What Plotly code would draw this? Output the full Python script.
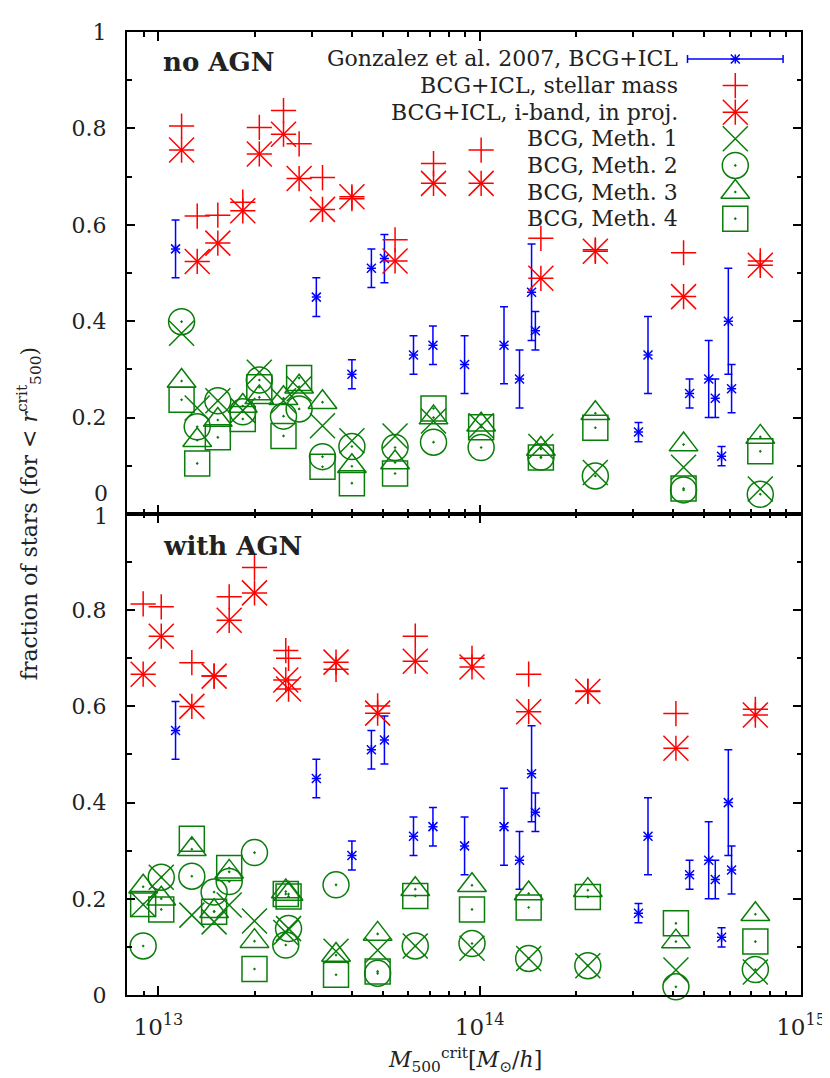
import plotly.graph_objects as go

# ---------------- data ----------------
# Gonzalez et al. 2007 observations (same in both panels)
gonz_mass = [1.13e13, 3.10e13, 4.0e13, 4.6e13, 5.05e13, 6.22e13, 7.15e13, 8.97e13,
             1.19e14, 1.33e14, 1.45e14, 1.49e14, 3.12e14, 3.34e14, 4.50e14, 5.16e14,
             5.41e14, 5.66e14, 5.94e14, 6.08e14]
gonz_frac = [0.55, 0.45, 0.29, 0.51, 0.53, 0.33, 0.35, 0.31,
             0.35, 0.28, 0.46, 0.38, 0.17, 0.33, 0.25, 0.28,
             0.24, 0.12, 0.40, 0.26]
gonz_err = [0.06, 0.04, 0.03, 0.04, 0.05, 0.04, 0.04, 0.06,
            0.08, 0.06, 0.10, 0.04, 0.02, 0.08, 0.03, 0.08,
            0.04, 0.02, 0.11, 0.05]

# simulations without AGN (top panel)
noagn_mass = [1.18e13, 1.32e13, 1.53e13, 1.83e13, 2.06e13, 2.45e13, 2.74e13, 3.24e13,
              4.0e13, 5.45e13, 7.18e13, 1.01e14, 1.55e14, 2.29e14, 4.31e14, 7.47e14]
noagn_stellar = [0.805, 0.618, 0.620, 0.647, 0.802, 0.837, 0.768, 0.698,
                 0.654, 0.569, 0.727, 0.755, 0.572, 0.548, 0.542, 0.525]
noagn_iband = [0.755, 0.524, 0.562, 0.629, 0.747, 0.788, 0.696, 0.632,
               0.658, 0.525, 0.686, 0.686, 0.489, 0.545, 0.451, 0.516]
noagn_meth1 = [0.375, 0.220, 0.235, 0.215, 0.294, 0.235, 0.260, 0.183,
               0.152, 0.162, 0.193, 0.183, 0.140, 0.086, 0.097, 0.052]
noagn_meth2 = [0.399, 0.181, 0.235, 0.212, 0.278, 0.203, 0.218, 0.119,
               0.140, 0.138, 0.149, 0.138, 0.118, 0.079, 0.050, 0.041]
noagn_meth3 = [0.276, 0.153, 0.195, 0.224, 0.242, 0.240, 0.264, 0.232,
               0.099, 0.107, 0.200, 0.185, 0.135, 0.209, 0.144, 0.160]
noagn_meth4 = [0.237, 0.105, 0.159, 0.197, 0.263, 0.162, 0.282, 0.098,
               0.064, 0.084, 0.219, 0.180, 0.117, 0.179, 0.053, 0.130]

# simulations with AGN (bottom panel)
agn_mass = [8.96e12, 1.02e13, 1.27e13, 1.49e13, 1.66e13, 1.99e13, 2.49e13, 2.54e13,
            3.57e13, 4.81e13, 6.30e13, 9.46e13, 1.42e14, 2.17e14, 4.08e14, 7.21e14]
agn_stellar = [0.813, 0.807, 0.691, 0.663, 0.828, 0.889, 0.716, 0.700,
               0.677, 0.601, 0.746, 0.700, 0.667, 0.632, 0.585, 0.594]
agn_iband = [0.667, 0.746, 0.600, 0.663, 0.779, 0.836, 0.655, 0.636,
             0.692, 0.586, 0.694, 0.682, 0.589, 0.631, 0.513, 0.582]
agn_meth1 = [0.188, 0.245, 0.166, 0.152, 0.187, 0.154, 0.130, 0.138,
             0.091, 0.093, 0.102, 0.097, 0.076, 0.061, 0.052, 0.048]
agn_meth2 = [0.102, 0.245, 0.247, 0.214, 0.236, 0.296, 0.104, 0.138,
             0.229, 0.045, 0.102, 0.107, 0.076, 0.061, 0.017, 0.053]
agn_meth3 = [0.225, 0.200, 0.303, 0.174, 0.256, 0.112, 0.215, 0.210,
             0.083, 0.127, 0.220, 0.228, 0.211, 0.218, 0.111, 0.168]
agn_meth4 = [0.189, 0.178, 0.325, 0.173, 0.264, 0.054, 0.210, 0.205,
             0.042, 0.049, 0.206, 0.178, 0.182, 0.204, 0.149, 0.111]

legend_labels = ["Gonzalez et al. 2007, BCG+ICL", "BCG+ICL, stellar mass",
                 "BCG+ICL, i-band, in proj.", "BCG, Meth. 1", "BCG, Meth. 2",
                 "BCG, Meth. 3", "BCG, Meth. 4"]

x_major = [1e13, 1e14, 1e15]
x_major_text = ["10<sup>13</sup>", "10<sup>14</sup>", "10<sup>15</sup>"]
x_minor = [k * 10.0 ** e for e in (12, 13, 14) for k in range(2, 10)]
y_major = [0, 0.2, 0.4, 0.6, 0.8, 1.0]
y_major_text = ["0", "0.2", "0.4", "0.6", "0.8", "1"]
y_minor = [0.1, 0.3, 0.5, 0.7, 0.9]

RED = "#ff0000"
GREEN = "#0a7d0a"
BLUE = "#0000ff"
FONT = "DejaVu Serif"
TXT = "#222"
LW = 1.5

fig = go.Figure()


def star(x, y, color, size, xa, ya, **kw):
    # gnuplot-like asterisk: a "+" with an "x" on top of it
    fig.add_trace(go.Scatter(x=x, y=y, xaxis=xa, yaxis=ya, mode="markers", cliponaxis=False,
                             showlegend=False, hoverinfo="skip",
                             marker=dict(symbol="cross-thin-open", size=size * 0.72, color=color,
                                         line=dict(color=color, width=LW)), **kw))
    fig.add_trace(go.Scatter(x=x, y=y, xaxis=xa, yaxis=ya, mode="markers", cliponaxis=False,
                             showlegend=False, hoverinfo="skip",
                             marker=dict(symbol="x-thin-open", size=size, color=color,
                                         line=dict(color=color, width=LW))))


def sym(x, y, symbol, size, color, xa, ya):
    fig.add_trace(go.Scatter(x=x, y=y, xaxis=xa, yaxis=ya, mode="markers",
                             cliponaxis=False, showlegend=False,
                             marker=dict(symbol=symbol, size=size, color=color,
                                         line=dict(color=color, width=LW))))


def panel(xa, ya, mass, stellar, iband, m1, m2, m3, m4):
    star(gonz_mass, gonz_frac, BLUE, 9, xa, ya,
         error_y=dict(type="data", array=gonz_err, color=BLUE, thickness=LW, width=4))
    sym(mass, stellar, "cross-thin-open", 18, RED, xa, ya)
    star(mass, iband, RED, 25, xa, ya)
    sym(mass, m1, "x-thin-open", 25, GREEN, xa, ya)
    sym(mass, m2, "circle-open-dot", 26, GREEN, xa, ya)
    sym(mass, m3, "triangle-up-open-dot", 25, GREEN, xa, ya)
    sym(mass, m4, "square-open-dot", 25, GREEN, xa, ya)


panel("x", "y", agn_mass, agn_stellar, agn_iband, agn_meth1, agn_meth2, agn_meth3, agn_meth4)
panel("x2", "y2", noagn_mass, noagn_stellar, noagn_iband,
      noagn_meth1, noagn_meth2, noagn_meth3, noagn_meth4)

# ---------------- key (gnuplot style: text on the left, symbol on the right) ----------------
key_x = 0.9025
key_y = [0.944 - 0.0552 * i for i in range(len(legend_labels))]
star([key_x], [key_y[0]], BLUE, 9, "x3", "y3",
     error_x=dict(type="data", array=[0.0709], color=BLUE, thickness=LW, width=4))
sym([key_x], [key_y[1]], "cross-thin-open", 18, RED, "x3", "y3")
star([key_x], [key_y[2]], RED, 25, "x3", "y3")
sym([key_x], [key_y[3]], "x-thin-open", 25, GREEN, "x3", "y3")
sym([key_x], [key_y[4]], "circle-open-dot", 26, GREEN, "x3", "y3")
sym([key_x], [key_y[5]], "triangle-up-open-dot", 25, GREEN, "x3", "y3")
sym([key_x], [key_y[6]], "square-open-dot", 25, GREEN, "x3", "y3")

annotations = []
for lab, yy in zip(legend_labels, key_y):
    annotations.append(dict(text=lab, xref="x3", yref="y3", x=0.8205, y=yy,
                            xanchor="right", yanchor="middle", showarrow=False,
                            font=dict(family=FONT, size=22, color=TXT)))

annotations += [
    dict(text="<b>no AGN</b>", xref="paper", yref="y2 domain", x=0.05, y=0.9385,
         xanchor="left", yanchor="middle", showarrow=False,
         font=dict(family=FONT, size=26, color=TXT)),
    dict(text="<b>with AGN</b>", xref="paper", yref="y domain", x=0.05, y=0.934,
         xanchor="left", yanchor="middle", showarrow=False,
         font=dict(family=FONT, size=26, color=TXT)),
    dict(text="0", xref="paper", yref="y2", x=0, y=0, xshift=-17, yshift=21,
         xanchor="right", yanchor="middle", showarrow=False,
         font=dict(family=FONT, size=22, color=TXT)),
    dict(text="1", xref="paper", yref="y", x=0, y=1, xshift=-17, yshift=-3,
         xanchor="right", yanchor="middle", showarrow=False,
         font=dict(family=FONT, size=22, color=TXT)),
    dict(text="fraction of stars (for &lt; <i>r</i><sup>crit</sup><sub>500</sub>)",
         xref="paper", yref="paper", x=-0.145, y=0.4995, textangle=-90,
         xanchor="center", yanchor="middle", showarrow=False,
         font=dict(family=FONT, size=22, color=TXT)),
    dict(text="<i>M</i><sub>500</sub><sup>crit</sup>[<i>M</i><sub>⊙</sub>/<i>h</i>]",
         xref="paper", yref="paper", x=0.5015, y=-0.068,
         xanchor="center", yanchor="middle", showarrow=False,
         font=dict(family=FONT, size=22, color=TXT)),
]

xaxis_common = dict(type="log", range=[12.902, 15.0], showgrid=False, zeroline=False,
                    showline=True, linecolor="black", linewidth=2, mirror="allticks",
                    ticks="inside", ticklen=9, tickwidth=1.5, tickcolor="black",
                    tickvals=x_major, ticktext=x_major_text,
                    minor=dict(tickvals=x_minor, ticks="inside", ticklen=4.5,
                               tickwidth=1.5, tickcolor="black"),
                    tickfont=dict(family=FONT, size=23, color=TXT))
yaxis_common = dict(range=[0, 1], showgrid=False, zeroline=False,
                    showline=True, linecolor="black", linewidth=2, mirror="allticks",
                    ticks="inside", ticklen=8, tickwidth=1.5, tickcolor="black",
                    minor=dict(tickvals=y_minor, ticks="inside", ticklen=4.5,
                               tickwidth=1.5, tickcolor="black"),
                    tickfont=dict(family=FONT, size=22, color=TXT),
                    ticklabelstandoff=14)

split = 482 / 965
fig.update_layout(
    width=830, height=1078,
    margin=dict(l=119, r=31, t=22, b=91),
    paper_bgcolor="white", plot_bgcolor="rgba(0,0,0,0)",
    showlegend=False,
    xaxis=dict(xaxis_common, anchor="y", domain=[0, 1], ticklabelstandoff=10),
    xaxis2=dict(xaxis_common, anchor="y2", matches="x", showticklabels=False),
    yaxis=dict(yaxis_common, anchor="x", domain=[0, split],
               tickvals=y_major[:-1], ticktext=y_major_text[:-1]),
    yaxis2=dict(yaxis_common, anchor="x2", domain=[split, 1],
                tickvals=y_major[1:], ticktext=y_major_text[1:]),
    xaxis3=dict(overlaying="x2", anchor="y3", range=[0, 1], visible=False),
    yaxis3=dict(overlaying="y2", anchor="x3", range=[0, 1], visible=False),
    annotations=annotations,
)

fig.write_html("out.html")
